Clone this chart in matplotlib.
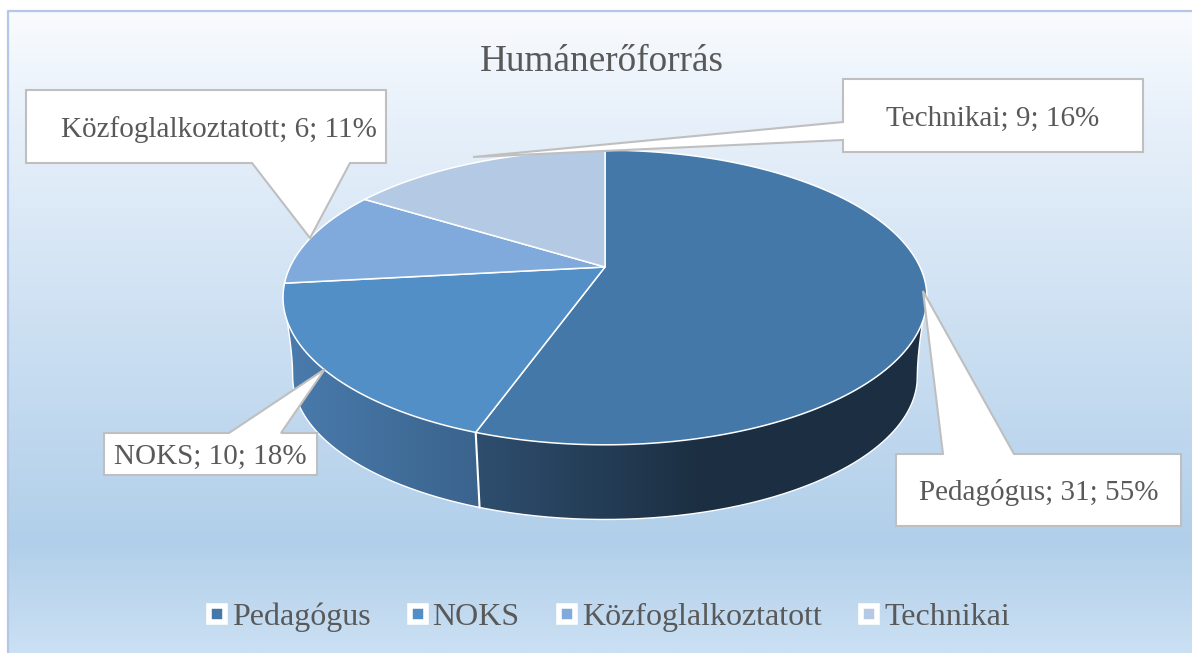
#!/usr/bin/env python3
# -*- coding: utf-8 -*-

import matplotlib
matplotlib.use("Agg")
import matplotlib.pyplot as plt
from matplotlib.colors import LinearSegmentedColormap
from matplotlib.lines import Line2D
from matplotlib.patches import Polygon
import numpy as np

categories = ["Pedagógus", "NOKS", "Közfoglalkoztatott", "Technikai"]
values = [31, 10, 6, 9]
percents = [55, 18, 11, 16]
title = "Humánerőforrás"

colors = ["#4478a8", "#528fc7", "#80aadb", "#b3c9e4"]
text_color = "#595959"

plt.rcParams["font.family"] = ["Liberation Serif", "DejaVu Serif"]

# pie geometry in pixels, perspective view of a disc
cx, cy = 605, 267
a, b, k = 315, 141, 0.207
side_scale = 0.97
side_shift = 80


def rim(theta):
    w = 1 + k*np.cos(theta)
    return cx + a*np.sin(theta)/w, cy - b*np.cos(theta)/w


def low_rim(theta):
    x, y = rim(theta)
    return cx + side_scale*(x - cx), cy + side_shift + side_scale*(y - cy)


def silhouette(theta):
    # curved outer edge from the top rim down to the lower rim
    x0, y0 = rim(theta)
    x2, y2 = low_rim(theta)
    x1, y1 = x2, y2 - 28
    s = np.linspace(0, 1, 30)
    return ((1 - s)**2*x0 + 2*s*(1 - s)*x1 + s**2*x2,
            (1 - s)**2*y0 + 2*s*(1 - s)*y1 + s**2*y2)


def gradient_fill(ax, pts, cmap_colors, x0, x1, zorder):
    cmap = LinearSegmentedColormap.from_list("side", cmap_colors)
    grad = np.linspace(0, 1, 256).reshape(1, -1)
    im = ax.imshow(grad, cmap=cmap, extent=[x0, x1, 653, 0], aspect="auto",
                   zorder=zorder)
    patch = Polygon(pts, closed=True, facecolor="none", edgecolor="none",
                    transform=ax.transData)
    ax.add_patch(patch)
    im.set_clip_path(patch)


def side_face(ax, t0, t1, cmap_colors, x0, x1, edge_at_start):
    t = np.linspace(t0, t1, 200)
    tx, ty = rim(t)
    lx, ly = low_rim(t)
    if edge_at_start:
        ex, ey = silhouette(t0)
        lx, ly = np.r_[ex, lx], np.r_[ey, ly]
    else:
        ex, ey = silhouette(t1)
        lx, ly = np.r_[lx, ex[::-1]], np.r_[ly, ey[::-1]]
    pts = np.column_stack([np.r_[tx, lx[::-1]], np.r_[ty, ly[::-1]]])
    gradient_fill(ax, pts, cmap_colors, x0, x1, 2)
    ax.plot(lx, ly, color="white", lw=1.0, zorder=3)


def callout(ax, box, base, tip, label, side, dx=0):
    x0, x1, y0, y1 = box
    if side == "bottom":
        pts = [(x0, y0), (x1, y0), (x1, y1), (base[1], y1), tip, (base[0], y1), (x0, y1)]
    elif side == "top":
        pts = [(x0, y0), (base[0], y0), tip, (base[1], y0), (x1, y0), (x1, y1), (x0, y1)]
    else:
        pts = [(x0, y0), (x1, y0), (x1, y1), (x0, y1), (x0, base[1]), tip, (x0, base[0])]
    ax.add_patch(Polygon(pts, closed=True, facecolor="white", edgecolor="#bfbfbf",
                         lw=1.5, joinstyle="miter", zorder=6))
    ax.text((x0 + x1)/2 + dx, (y0 + y1)/2 + 3, label, ha="center", va="center",
            fontsize=21, color=text_color, zorder=7)


fig = plt.figure(figsize=(11.92, 6.53), dpi=100)
ax = fig.add_axes([0, 0, 1, 1])

# chart area background
bg_stops = [(0.0, "#f9fbfe"), (0.14, "#eaf2fb"), (0.45, "#d0e2f3"),
            (0.83, "#b1cfea"), (1.0, "#cbe0f3")]
bg = LinearSegmentedColormap.from_list("bg", bg_stops)
ax.imshow(np.linspace(0, 1, 256).reshape(-1, 1), cmap=bg,
          extent=[8, 1192, 653, 11], aspect="auto", zorder=0)
ax.plot([1192, 8, 8], [11, 11, 653], color="#b4c7e7", lw=1.6, zorder=1)

# angles clockwise from the top, from the values
cum = np.cumsum([0] + values)/sum(values)*2*np.pi

widest = np.arccos(-k)
side_face(ax, widest, cum[1], ["#2f4f70", "#1c2f42", "#1c2f42"], 470, 930, True)
side_face(ax, cum[1], 2*np.pi - widest, ["#4a7cae", "#3a628b"], 280, 490, False)

# seam between the two side faces
sx, sy = rim(cum[1])
lx, ly = low_rim(cum[1])
ax.plot([sx, lx], [sy, ly], color="white", lw=1.5, zorder=3)

# top face
for i in range(len(values)):
    t = np.linspace(cum[i], cum[i + 1], 200)
    x, y = rim(t)
    pts = np.column_stack([np.r_[cx, x], np.r_[cy, y]])
    ax.add_patch(Polygon(pts, closed=True, facecolor=colors[i], edgecolor="white",
                         lw=1.1, joinstyle="round", zorder=4))

ax.text(602, 62, title, ha="center", va="center", fontsize=26.8, color=text_color,
        zorder=7)

labels = [f"{c}; {v}; {p}%" for c, v, p in zip(categories, values, percents)]
callout(ax, (896, 1181, 454, 526), (943, 1014), (923, 291), labels[0], "top")
callout(ax, (104, 317, 433, 475), (229, 281), (325, 369), labels[1], "top")
callout(ax, (26, 386, 90, 163), (252, 350), (310, 238), labels[2], "bottom", dx=13)
callout(ax, (843, 1143, 79, 152), (122, 140), (473, 157), labels[3], "left")

handles = [Line2D([], [], linestyle="none", marker="s", markersize=11,
                  markerfacecolor=c, markeredgecolor="white", markeredgewidth=4)
           for c in colors]
ax.legend(handles, categories, loc="center", bbox_to_anchor=(608, 617),
          bbox_transform=ax.transData, ncols=4, frameon=False, fontsize=23,
          labelcolor=text_color, handlelength=0.66, handletextpad=0.14,
          columnspacing=1.15, borderpad=0, numpoints=1)

ax.set_xlim(0, 1192)
ax.set_ylim(653, 0)
ax.axis("off")

fig.savefig("out.png", dpi=100, facecolor="white")
